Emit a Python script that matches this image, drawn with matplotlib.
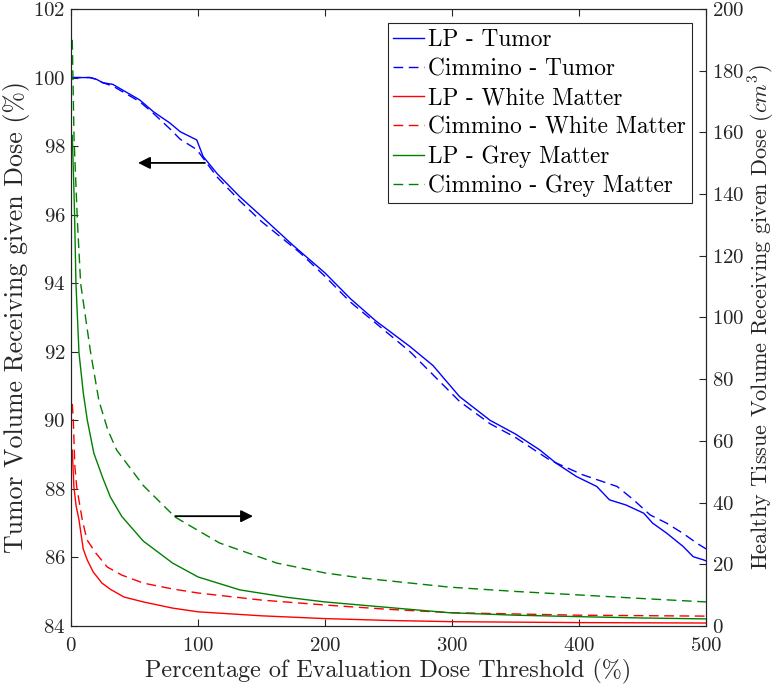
import matplotlib
matplotlib.use("Agg")
import matplotlib.pyplot as plt

plt.rcParams['font.family'] = 'serif'
plt.rcParams['font.serif'] = ['cmr10', 'DejaVu Serif']
plt.rcParams['mathtext.fontset'] = 'cm'
plt.rcParams['axes.unicode_minus'] = False
plt.rcParams['axes.formatter.use_mathtext'] = True

# tumor volume (%), left axis
lp_tumor_x = [0, 15, 20, 25, 33, 40, 54, 65, 78, 86, 99, 104, 115, 133, 150, 175,
              200, 220, 240, 267, 285, 306, 330, 350, 369, 382, 398, 414, 424,
              437, 451, 458, 469, 482, 490, 498, 500]
lp_tumor_y = [100, 100, 99.95, 99.85, 99.8, 99.65, 99.35, 99.0, 98.67, 98.42, 98.18,
              97.7, 97.2, 96.52, 95.95, 95.1, 94.3, 93.55, 92.9, 92.15, 91.6, 90.69,
              90.0, 89.6, 89.14, 88.75, 88.36, 88.07, 87.68, 87.53, 87.29, 87.0,
              86.71, 86.32, 86.02, 85.93, 85.9]

cim_tumor_x = [0, 15, 20, 25, 33, 40, 54, 65, 78, 86, 99, 105, 115, 133, 150, 180,
               200, 220, 267, 306, 330, 350, 377, 403, 430, 443, 456, 469, 482,
               493, 500]
cim_tumor_y = [100, 100, 99.95, 99.85, 99.75, 99.6, 99.3, 98.95, 98.5, 98.2, 97.9,
               97.6, 97.1, 96.4, 95.8, 94.9, 94.2, 93.45, 92.0, 90.55, 89.9, 89.5,
               88.84, 88.41, 88.07, 87.68, 87.24, 87.0, 86.7, 86.41, 86.25]

# healthy tissue volume (cm^3), right axis
lp_wm_x = [1, 2.3, 4, 6.3, 9.6, 12.8, 17.5, 24.4, 31, 41.7, 57, 80, 100, 150, 200,
           250, 300, 400, 500]
lp_wm_y = [57, 45, 39, 34.4, 25, 21.4, 17.5, 13.9, 11.9, 9.4, 7.8, 5.8, 4.6, 3.3,
           2.4, 1.8, 1.4, 1.1, 0.97]

cim_wm_x = [1, 1.8, 3, 4.5, 8.9, 12.5, 19.4, 28.6, 40, 57, 80, 100, 150, 200, 250,
            300, 400, 500]
cim_wm_y = [72, 66.8, 52, 45, 34.4, 28, 23.7, 19.1, 16.5, 13.9, 12.0, 10.7, 8.4,
            6.8, 5.4, 4.3, 3.5, 3.2]

lp_gm_x = [1, 2.4, 2.9, 3.9, 6.3, 9.7, 12.8, 18, 25, 31, 40, 57, 80, 100, 133, 170,
           200, 250, 298, 350, 403, 450, 500]
lp_gm_y = [159, 140, 131.6, 111, 88.5, 75.5, 66.8, 56, 48, 41.8, 35.5, 27.5, 20.4,
           15.9, 11.7, 9.3, 7.8, 6.0, 4.3, 3.5, 3.0, 2.6, 2.3]

cim_gm_x = [1, 2.4, 5, 7.6, 15.5, 22, 29, 36, 57, 82, 117, 162, 200, 228, 298, 350,
            403, 450, 500]
cim_gm_y = [190, 158, 131.6, 111, 88.5, 73, 63.5, 57, 45.5, 35.3, 26.9, 20.4, 17.2,
            15.6, 12.6, 11.2, 10.0, 8.9, 7.8]

x_ticks = [0, 100, 200, 300, 400, 500]
left_ticks = [84, 86, 88, 90, 92, 94, 96, 98, 100, 102]
right_ticks = [0, 20, 40, 60, 80, 100, 120, 140, 160, 180, 200]

axis_col = '#262626'
dash = (7, 4)

fig = plt.figure(figsize=(7.77, 6.88), dpi=100)
ax = fig.add_axes([71 / 777, 1 - 626 / 688, 635 / 777, 617 / 688])
ax2 = ax.twinx()

l1, = ax.plot(lp_tumor_x, lp_tumor_y, color='#0000ff', lw=1.0, label='LP - Tumor')
l2, = ax.plot(cim_tumor_x, cim_tumor_y, color='#0000ff', lw=1.0, dashes=dash,
              label='Cimmino - Tumor')
l3, = ax2.plot(lp_wm_x, lp_wm_y, color='#ff0000', lw=1.0, label='LP - White Matter')
l4, = ax2.plot(cim_wm_x, cim_wm_y, color='#ff0000', lw=1.0, dashes=dash,
               label='Cimmino - White Matter')
l5, = ax2.plot(lp_gm_x, lp_gm_y, color='#008000', lw=1.0, label='LP - Grey Matter')
l6, = ax2.plot(cim_gm_x, cim_gm_y, color='#008000', lw=1.0, dashes=dash,
               label='Cimmino - Grey Matter')

ax.set_xlim(0, 500)
ax.set_ylim(84, 102)
ax2.set_ylim(0, 200)
ax.set_xticks(x_ticks)
ax.set_yticks(left_ticks)
ax2.set_yticks(right_ticks)

for a in (ax, ax2):
    for s in a.spines.values():
        s.set_color(axis_col)
        s.set_linewidth(0.8)
ax.tick_params(axis='x', direction='in', top=True, length=5, width=0.8,
               colors=axis_col, labelsize=15, pad=8)
ax.tick_params(axis='y', direction='in', length=5, width=0.8,
               colors=axis_col, labelsize=15, pad=4)
ax2.tick_params(axis='y', direction='in', length=5, width=0.8,
                colors=axis_col, labelsize=15, pad=4)

ax.set_xlabel('Percentage of Evaluation Dose Threshold (%)', fontsize=17.4,
              color=axis_col, labelpad=3)
ax.set_ylabel('Tumor Volume Receiving given Dose (%)', fontsize=18.6,
              color=axis_col, labelpad=2)
ax2.set_ylabel('Healthy Tissue Volume Receiving given Dose ($cm^3$)', fontsize=16,
               color=axis_col, rotation=90, labelpad=2)

# arrows pointing to the axis each group belongs to
ax.annotate('', xy=(52.8, 97.51), xytext=(105.5, 97.51),
            arrowprops=dict(arrowstyle='-|>', color='black', lw=1.3,
                            mutation_scale=18, shrinkA=0, shrinkB=0))
ax2.annotate('', xy=(143.3, 35.6), xytext=(82, 35.6),
             arrowprops=dict(arrowstyle='-|>', color='black', lw=1.3,
                             mutation_scale=18, shrinkA=0, shrinkB=0))

leg = ax2.legend(handles=[l1, l2, l3, l4, l5, l6], loc='upper right', fontsize=16.8,
                 frameon=True, fancybox=False, framealpha=1, edgecolor=axis_col,
                 handlelength=1.3, handletextpad=0.2, borderaxespad=0.6,
                 labelspacing=0.3, borderpad=0.25)
leg.get_frame().set_linewidth(0.8)

fig.savefig('out.png', dpi=100)
